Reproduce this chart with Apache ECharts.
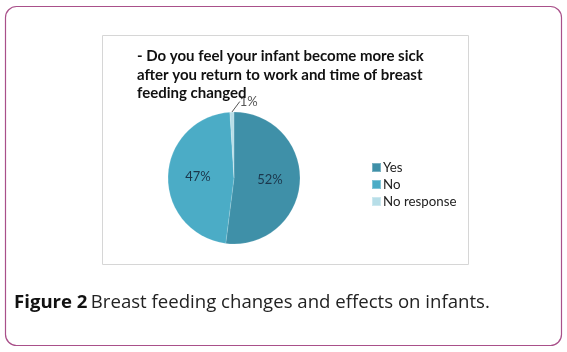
<!DOCTYPE html>
<html><head><meta charset="utf-8">
<script src="https://cdn.jsdelivr.net/npm/echarts@6/dist/echarts.min.js"></script>
<style>html,body{margin:0;padding:0;background:#fff}#c{width:567px;height:352px}</style>
</head><body><div id="c"></div>
<script>
const categories = ['Yes', 'No', 'No response'];
const values = [52, 47, 1];
const colors = ['#3f90a8', '#4bacc6', '#b7dee8'];
const titleText = '- Do you feel your infant become more sick\nafter you return to work and time of breast\nfeeding changed';

const chart = echarts.init(document.getElementById('c'), null, {renderer: 'canvas'});
chart.setOption({
  animation: false,
  backgroundColor: '#fff',
  title: {
    text: titleText,
    left: 132, top: 42,
    textStyle: {fontFamily: 'Lato', fontWeight: 'bold', fontSize: 15, lineHeight: 18.5, color: '#111'}
  },
  legend: {
    orient: 'vertical', left: 366, top: 156,
    itemWidth: 9, itemHeight: 9, itemGap: 4, icon: 'rect',
    data: categories,
    textStyle: {fontFamily: 'Lato', fontSize: 13.3, lineHeight: 13, color: '#222', padding: [0,0,0,-3]}
  },
  graphic: [
    {type: 'rect', shape: {x: 5.5, y: 6.5, width: 556, height: 339, r: 11}, style: {fill: 'none', stroke: '#a9508a', lineWidth: 1.2}, z: -10},
    {type: 'rect', shape: {x: 102.5, y: 35.5, width: 366, height: 229}, style: {fill: 'none', stroke: '#d6d6d6', lineWidth: 1}, z: -9},
    {type: 'text', left: 14, top: 293, style: {
      rich: {b: {fontFamily: 'Open Sans', fontWeight: 'bold', fontSize: 18.6, fill: '#111'}, n: {fontFamily: 'Open Sans', fontSize: 18.6, fill: '#222'}},
      text: '{b|Figure 2} {n|Breast feeding changes and effects on infants.}'
    }}
  ],
  series: [{
    type: 'pie',
    center: [234, 178], radius: 66,
    startAngle: 90, clockwise: true,
    color: colors,
    label: {show: true, position: 'inside', formatter: '{d}%', fontFamily: 'Lato', fontSize: 13, color: '#1b364b'},
    labelLine: {show: false},
    itemStyle: {borderColor: 'rgba(255,255,255,0.3)', borderWidth: 0.5},
    data: categories.map((n, i) => {
      const d = {name: n, value: values[i]};
      if (i === 2) {
        d.label = {position: 'outside', color: '#555', fontSize: 13};
        d.labelLine = {show: true, length: 5, length2: 0, lineStyle: {color: '#555', width: 1}};
      }
      return d;
    }),
    labelLayout: function (p) {
      if (p.dataIndex === 2) return {x: p.labelRect.x + p.labelRect.width + 13, y: p.labelRect.y + 1, align: 'left'};
      return {};
    }
  }]
});
</script></body></html>
